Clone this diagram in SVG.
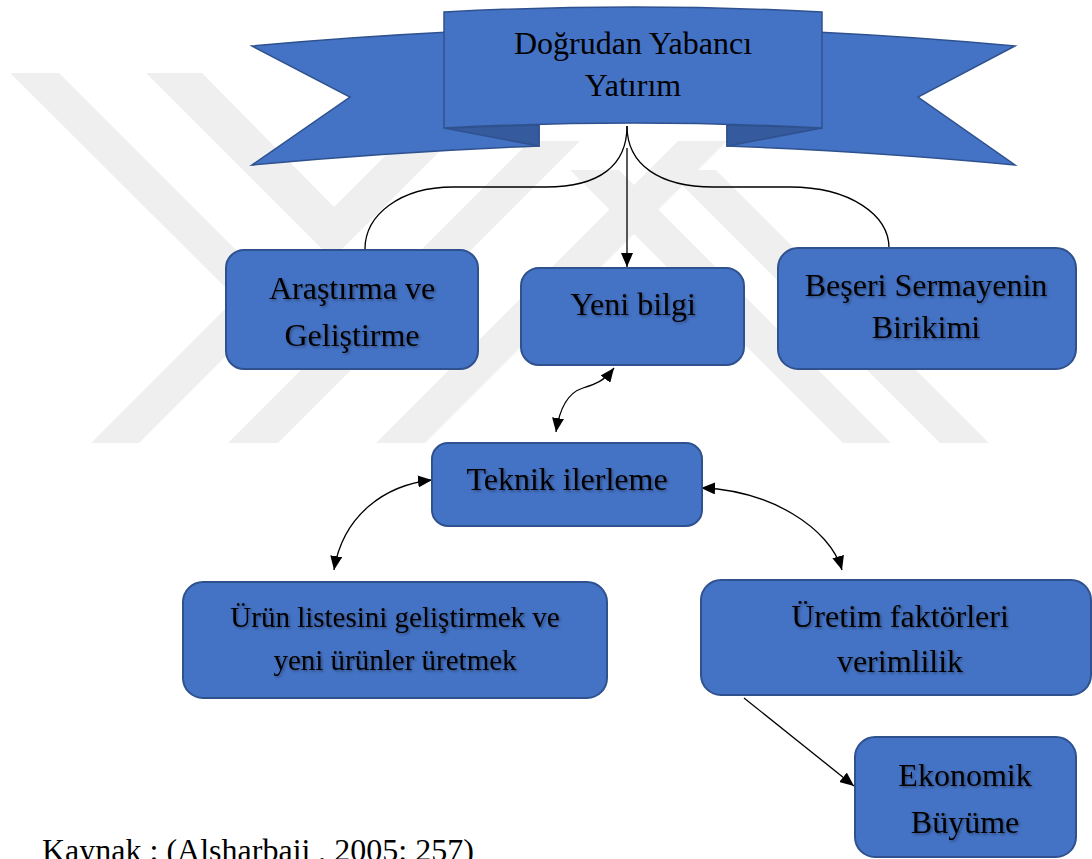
<svg xmlns="http://www.w3.org/2000/svg" width="1092" height="859" viewBox="0 0 1092 859">
<style>
.wm{fill:#efefef;stroke:none}
.box{fill:#4472C4;stroke:#2F528F;stroke-width:2}
.rib{fill:#4472C4;stroke:#2F528F;stroke-width:1.5;stroke-linejoin:miter}
.fold{fill:#355B9E;stroke:#2F528F;stroke-width:1.5}
.t{font-family:"Liberation Serif","Times New Roman",serif;font-size:32px;fill:#000;text-anchor:middle}
.ts{filter:url(#sh)}
.c{fill:none;stroke:#000;stroke-width:1.3}
</style>
<defs>
<filter id="sh" x="-10%" y="-30%" width="120%" height="160%">
<feDropShadow dx="1.5" dy="1.5" stdDeviation="1" flood-color="#000" flood-opacity="0.35"/>
</filter>
<marker id="ah" viewBox="0 0 14 12" refX="14" refY="6" markerWidth="14" markerHeight="12" markerUnits="userSpaceOnUse" orient="auto-start-reverse">
<path d="M0,0 L14,6 L0,12 Z" fill="#000"/>
</marker>
</defs>
<rect width="1092" height="859" fill="#fff"/>
<g id="watermark">
<polygon class="wm" points="10,73 59,73 284,298 139,443 91,443 236,298"/>
<polygon class="wm" points="146,73 202,73 334,207 468,73 518,73 332,259"/>
<polygon class="wm" points="228,443 278,443 580,141 530,141"/>
<polygon class="wm" points="376,443 425,443 727,141 678,141"/>
<polygon class="wm" points="570,170 619,170 891,443 843,443"/>
<polygon class="wm" points="667,170 716,170 989,443 940,443"/>
</g>
<g id="ribbon">
<path class="rib" d="M252,46 Q350,37 450,32 L450,125 L539,125 L539,146 Q390,152 252,165 L350,97 Z"/>
<path class="rib" d="M1015,46 Q918,37 816,32 L816,125 L727,125 L727,146 Q880,152 1015,165 L918,97 Z"/>
<path class="fold" d="M444,128 L539,146 L539,125 Z"/>
<path class="fold" d="M822,128 L727,146 L727,125 Z"/>
<path class="rib" d="M444,12 Q633,2 822,12 L822,128 Q633,118 444,128 Z"/>
<text class="t" x="633" y="54">Doğrudan Yabancı</text>
<text class="t" x="633" y="96">Yatırım</text>
</g>
<g id="connectors">
<path class="c" d="M627,126 C627,165 600,187 546,187 L453,187 C400,187 365,215 365,249"/>
<path class="c" d="M627,126 C627,165 660,187 713,187 L790,187 C850,187 889,215 889,248"/>
<path class="c" d="M627,148 L627,267" marker-end="url(#ah)"/>
<path class="c" d="M556,432 C560,405 570,392 583,388 C596,384 604,381 614,368" marker-start="url(#ah)" marker-end="url(#ah)"/>
<path class="c" d="M432,480 C385,485 343,515 334,570" marker-start="url(#ah)" marker-end="url(#ah)"/>
<path class="c" d="M701,488 C770,490 830,528 842,570" marker-start="url(#ah)" marker-end="url(#ah)"/>
<path class="c" d="M744,698 L854,786" marker-end="url(#ah)"/>
</g>
<g id="arge">
<rect class="box" x="226" y="250" width="252" height="119" rx="18"/>
<text class="t ts" x="352" y="299">Araştırma ve</text>
<text class="t ts" x="352" y="346">Geliştirme</text>
</g>
<g id="yeni">
<rect class="box" x="521" y="268" width="223" height="97" rx="18"/>
<text class="t ts" x="633" y="315">Yeni bilgi</text>
</g>
<g id="beseri">
<rect class="box" x="778" y="248" width="298" height="121" rx="20"/>
<text class="t ts" x="926" y="296">Beşeri Sermayenin</text>
<text class="t ts" x="926" y="338">Birikimi</text>
</g>
<g id="teknik">
<rect class="box" x="432" y="443" width="270" height="83" rx="16"/>
<text class="t ts" x="567" y="490">Teknik ilerleme</text>
</g>
<g id="urun">
<rect class="box" x="183" y="582" width="424" height="116" rx="20"/>
<text class="t ts" x="395" y="627" style="font-size:29px">Ürün listesini geliştirmek ve</text>
<text class="t ts" x="395" y="670" style="font-size:29px">yeni ürünler üretmek</text>
</g>
<g id="uretim">
<rect class="box" x="701" y="580" width="390" height="115" rx="20"/>
<text class="t ts" x="900" y="627">Üretim faktörleri</text>
<text class="t ts" x="900" y="672">verimlilik</text>
</g>
<g id="eko">
<rect class="box" x="855" y="737" width="221" height="120" rx="20"/>
<text class="t ts" x="965" y="786">Ekonomik</text>
<text class="t ts" x="965" y="833">Büyüme</text>
</g>
<g id="source">
<text class="t" x="42" y="861" style="text-anchor:start">Kaynak : (Alsharbaji , 2005: 257)</text>
</g>
</svg>
